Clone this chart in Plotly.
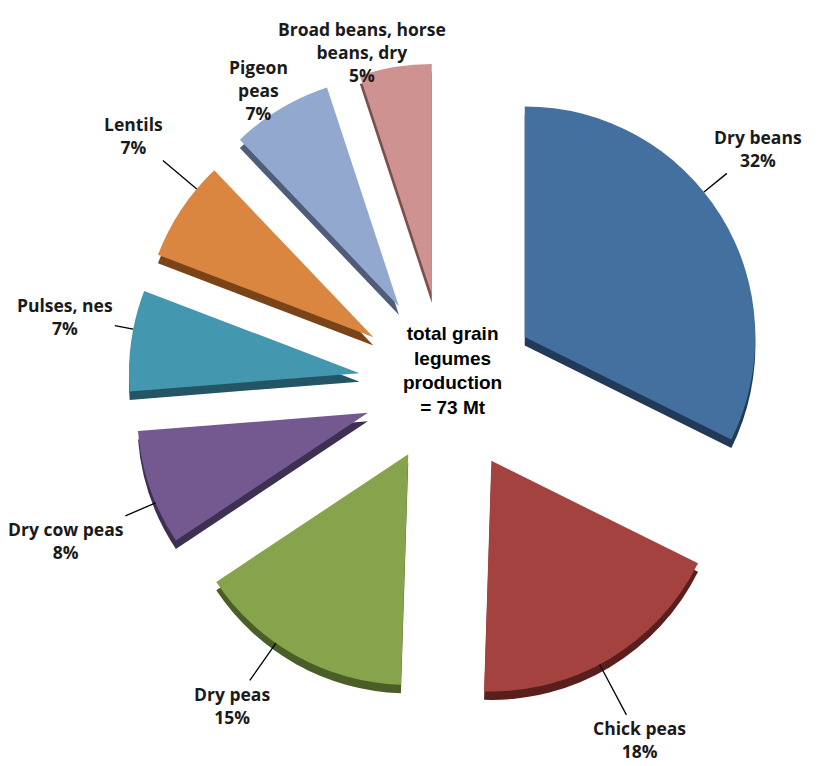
import math
import plotly.graph_objects as go

categories = ["Dry beans", "Chick peas", "Dry peas", "Dry cow peas",
              "Pulses, nes", "Lentils", "Pigeon peas", "Broad beans, horse beans, dry"]
display_labels = ["Dry beans", "Chick peas", "Dry peas", "Dry cow peas",
                  "Pulses, nes", "Lentils", "Pigeon<br>peas", "Broad beans, horse<br>beans, dry"]
shares = [32, 18, 15, 8, 7, 7, 7, 5]
colors = ["#44709F", "#A3423F", "#86A44B", "#73598F", "#4397AE", "#DA8540", "#93A8CF", "#CE9291"]
side_colors = ["#213A58", "#5A1E1C", "#4B5E27", "#3F2F52", "#235565", "#7A4318", "#4F5E78", "#7A4F4E"]
pulls = [0.40, 0.38, 0.34, 0.36, 0.38, 0.38, 0.40, 0.40]
# label placement (angle in degrees clockwise from 12 o'clock, radius as multiple of pie radius)
label_angles = [51, 152, 215, 247, 281, 310, 327, 346]
label_radii = [1.30, 1.37, 1.33, 1.42, 1.30, 1.36, 1.12, 1.25]
label_lines = [True, True, True, True, True, True, True, False]
center_text = "total grain<br>legumes<br>production<br>= 73 Mt"

W, H = 819, 766
dom_x = [0.150, 0.940]
dom_y = [0.075, 0.918]
shift = 0.011

fig = go.Figure()
fig.add_trace(go.Pie(
    labels=categories, values=shares, sort=False, direction="clockwise", rotation=0,
    pull=pulls, marker=dict(colors=side_colors, line=dict(width=0)),
    textinfo="none", hoverinfo="skip", showlegend=False,
    domain=dict(x=dom_x, y=[dom_y[0] - shift, dom_y[1] - shift]),
))
fig.add_trace(go.Pie(
    labels=categories, values=shares, sort=False, direction="clockwise", rotation=0,
    pull=pulls, marker=dict(colors=colors, line=dict(width=0)),
    textinfo="none", showlegend=False,
    domain=dict(x=dom_x, y=dom_y),
))

# pie geometry as plotly computes it (pixels, origin top-left)
box_w = W * (dom_x[1] - dom_x[0])
box_h = H * (dom_y[1] - dom_y[0])
r = min(box_w, box_h) / (2 + 2 * max(pulls))
cx = W * (dom_x[0] + dom_x[1]) / 2
cy = H * (1 - dom_y[0]) - box_h / 2

label_font = dict(family="Open Sans", size=17.5, color="#1a1a1a")
total = sum(shares)
cum = 0.0
for i, v in enumerate(shares):
    mid = (cum + v / 2) / total * 2 * math.pi
    cum += v
    sx = cx + pulls[i] * r * math.sin(mid)
    sy = cy - pulls[i] * r * math.cos(mid)
    a = math.radians(label_angles[i])
    hx = sx + r * math.sin(a)
    hy = sy - r * math.cos(a)
    lx = sx + label_radii[i] * r * math.sin(a)
    ly = sy - label_radii[i] * r * math.cos(a)
    pct = round(v / total * 100)
    txt = "<b>" + display_labels[i] + "<br>" + str(pct) + "%</b>"
    if label_lines[i]:
        fig.add_annotation(
            x=hx / W, y=1 - hy / H, xref="paper", yref="paper",
            ax=lx - hx, ay=ly - hy, axref="pixel", ayref="pixel",
            text=txt, showarrow=True, arrowhead=0, arrowwidth=1.3, arrowcolor="#000000",
            font=label_font,
        )
    else:
        fig.add_annotation(
            x=lx / W, y=1 - ly / H, xref="paper", yref="paper",
            text=txt, showarrow=False, font=label_font,
        )

fig.add_annotation(
    x=0.552, y=0.516, xref="paper", yref="paper", text="<b>" + center_text + "</b>",
    showarrow=False, font=dict(family="Liberation Sans", size=19, color="#000000"),
)
fig.update_layout(
    width=W, height=H, margin=dict(l=0, r=0, t=0, b=0),
    paper_bgcolor="white", plot_bgcolor="white",
)
fig.write_html("out.html")
